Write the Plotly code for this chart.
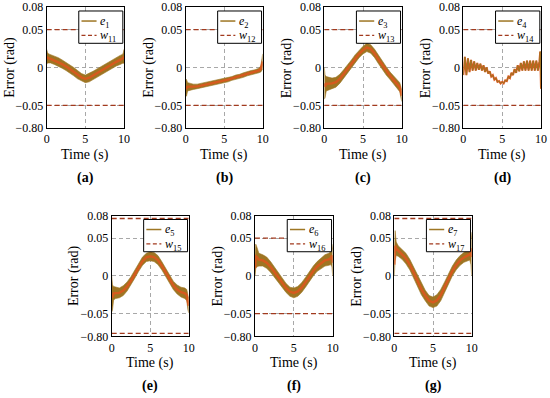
import plotly.graph_objects as go

# ---------------- data ----------------
T = [0, 0.1, 0.25, 0.5, 1, 1.5, 2, 2.5, 3, 3.5, 4, 4.5, 5, 5.5, 6, 6.5, 7, 7.5,
     8, 8.5, 9, 9.5, 9.75, 9.9, 10]

E1_UP = [0.024, 0.020, 0.018, 0.017, 0.015, 0.013, 0.010, 0.007, 0.003, 0.000, -0.004, -0.008, -0.010,
         -0.008, -0.005, -0.002, 0.001, 0.005, 0.008, 0.011, 0.013, 0.016, 0.017, 0.019, 0.024]
E1_LO = [0.004, 0.006, 0.006, 0.006, 0.004, 0.002, -0.001, -0.004, -0.007, -0.011, -0.015, -0.018, -0.020,
         -0.019, -0.016, -0.013, -0.009, -0.006, -0.003, 0.000, 0.002, 0.004, 0.005, 0.006, 0.005]

E2_UP = [-0.015, -0.016, -0.020, -0.021, -0.022, -0.022, -0.021, -0.020, -0.019, -0.018, -0.017, -0.016, -0.015,
         -0.013, -0.012, -0.010, -0.009, -0.007, -0.005, -0.004, -0.003, -0.001, 0.002, 0.010, 0.018]
E2_LO = [-0.036, -0.038, -0.031, -0.030, -0.029, -0.028, -0.027, -0.026, -0.025, -0.024, -0.022, -0.021, -0.020,
         -0.019, -0.017, -0.016, -0.014, -0.013, -0.011, -0.010, -0.009, -0.007, -0.006, -0.004, -0.002]

E3_UP = [0.000, -0.010, -0.012, -0.013, -0.014, -0.013, -0.009, -0.003, 0.003, 0.010, 0.017, 0.023, 0.028,
         0.032, 0.030, 0.024, 0.016, 0.009, 0.001, -0.006, -0.012, -0.017, -0.020, -0.025, -0.030]
E3_LO = [-0.042, -0.040, -0.031, -0.030, -0.028, -0.026, -0.021, -0.014, -0.007, 0.000, 0.007, 0.013, 0.018,
         0.021, 0.019, 0.013, 0.005, -0.003, -0.010, -0.016, -0.022, -0.028, -0.032, -0.040, -0.045]

T4 = [0.0, 0.2, 0.4, 0.6, 0.8, 1.0, 1.2, 1.4, 1.6, 1.8, 2.0, 2.2, 2.4, 2.6, 2.8, 3.0, 3.2, 3.4, 3.6, 3.8,
      4.0, 4.2, 4.4, 4.6, 4.8, 5.0, 5.2, 5.4, 5.6, 5.8, 6.0, 6.2, 6.4, 6.6, 6.8, 7.0, 7.2, 7.4, 7.6, 7.8,
      8.0, 8.2, 8.4, 8.6, 8.8, 9.0, 9.2, 9.4, 9.6, 9.8, 9.9, 10.0]
E4 = [-0.010, 0.014, -0.010, 0.012, -0.006, 0.010, -0.004, 0.008, -0.004, 0.006, -0.003, 0.005, -0.004,
      0.003, -0.006, 0.000, -0.008, -0.005, -0.012, -0.010, -0.016, -0.014, -0.019, -0.018, -0.021, -0.019,
      -0.021, -0.017, -0.018, -0.012, -0.014, -0.007, -0.010, -0.002, -0.007, 0.003, -0.005, 0.006, -0.004,
      0.008, -0.004, 0.009, -0.004, 0.009, -0.004, 0.009, -0.004, 0.009, -0.004, 0.008, 0.021, -0.028]

E5_UP = [0.000, -0.012, -0.014, -0.015, -0.016, -0.013, -0.008, -0.001, 0.008, 0.017, 0.025, 0.030, 0.032,
         0.031, 0.027, 0.019, 0.010, 0.001, -0.007, -0.012, -0.015, -0.016, -0.018, -0.025, -0.030]
E5_LO = [-0.048, -0.045, -0.032, -0.030, -0.029, -0.026, -0.020, -0.012, -0.003, 0.006, 0.014, 0.019, 0.020,
         0.019, 0.015, 0.008, -0.001, -0.010, -0.018, -0.024, -0.028, -0.030, -0.033, -0.045, -0.049]

E6_UP = [0.020, 0.042, 0.038, 0.030, 0.028, 0.025, 0.019, 0.012, 0.005, -0.003, -0.010, -0.015, -0.016,
         -0.014, -0.009, -0.002, 0.006, 0.013, 0.019, 0.024, 0.028, 0.030, 0.032, 0.042, 0.035]
E6_LO = [0.000, 0.010, 0.012, 0.013, 0.013, 0.010, 0.005, -0.002, -0.009, -0.016, -0.022, -0.027, -0.029,
         -0.027, -0.022, -0.015, -0.007, 0.000, 0.006, 0.010, 0.013, 0.014, 0.015, 0.012, 0.000]

E7_UP = [0.030, 0.060, 0.045, 0.040, 0.035, 0.030, 0.022, 0.012, 0.001, -0.010, -0.019, -0.026, -0.028,
         -0.025, -0.018, -0.008, 0.003, 0.013, 0.021, 0.027, 0.031, 0.034, 0.036, 0.058, 0.050]
E7_LO = [0.000, 0.020, 0.027, 0.026, 0.022, 0.016, 0.008, -0.003, -0.014, -0.025, -0.033, -0.040, -0.042,
         -0.040, -0.033, -0.022, -0.010, 0.000, 0.008, 0.014, 0.018, 0.020, 0.021, 0.015, 0.000]

W_BOUNDS = [0.05, 0.05, 0.05, 0.05, 0.076, 0.05, 0.076]
E_LABELS = ["<i>e</i><sub>1</sub>", "<i>e</i><sub>2</sub>", "<i>e</i><sub>3</sub>", "<i>e</i><sub>4</sub>",
            "<i>e</i><sub>5</sub>", "<i>e</i><sub>6</sub>", "<i>e</i><sub>7</sub>"]
W_LABELS = ["<i>w</i><sub>11</sub>", "<i>w</i><sub>12</sub>", "<i>w</i><sub>13</sub>", "<i>w</i><sub>14</sub>",
            "<i>w</i><sub>15</sub>", "<i>w</i><sub>16</sub>", "<i>w</i><sub>17</sub>"]
PANEL_LABELS = ["(a)", "(b)", "(c)", "(d)", "(e)", "(f)", "(g)"]
Y_TICKVALS = [-0.08, -0.05, 0, 0.05, 0.08]
Y_TICKTEXT = ["\u22120.80", "\u22120.05", "0", "0.05", "0.08"]
X_TICKVALS = [0, 5, 10]
X_TICKTEXT = ["0", "5", "10"]

BANDS = [(E1_UP, E1_LO), (E2_UP, E2_LO), (E3_UP, E3_LO), None, (E5_UP, E5_LO), (E6_UP, E6_LO), (E7_UP, E7_LO)]

# ---------------- layout geometry (window pixels) ----------------
W, H = 550, 398
PX = [(46.7, 124.0), (185.7, 262.7), (324.3, 401.7), (463.3, 541.0),
      (111.7, 188.7), (255.0, 332.7), (394.3, 471.7)]
PY = [(7.0, 128.0)] * 4 + [(215.5, 336.3)] * 3

OLIVE = "#9E7624"
ORANGE = "#E0561E"
RED = "#A23A1E"
FONT = "Liberation Serif"


def fx(px):
    return px / W


def fy(py):
    return 1 - py / H


fig = go.Figure()
layout = dict(width=W, height=H, margin=dict(l=0, r=0, t=0, b=0, autoexpand=False),
              paper_bgcolor="white", plot_bgcolor="white", showlegend=False,
              font=dict(family=FONT, size=12, color="black"))
shapes = []
annotations = []

for i in range(7):
    k = i + 1
    xa = "x" if k == 1 else f"x{k}"
    ya = "y" if k == 1 else f"y{k}"
    x0, x1 = PX[i]
    y0, y1 = PY[i]
    axis_common = dict(showline=True, linecolor="black", linewidth=1, mirror=True,
                       showgrid=True, gridcolor="#A8A8A8", gridwidth=0.8, griddash="4px,3px",
                       zeroline=False, ticks="", automargin=False,
                       tickfont=dict(family=FONT, size=12))
    layout["xaxis" if k == 1 else f"xaxis{k}"] = dict(
        axis_common, domain=[fx(x0), fx(x1)], anchor=ya, range=[0, 10],
        tickvals=X_TICKVALS, ticktext=X_TICKTEXT)
    layout["yaxis" if k == 1 else f"yaxis{k}"] = dict(
        axis_common, domain=[fy(y1), fy(y0)], anchor=xa, range=[-0.08, 0.08],
        tickvals=Y_TICKVALS, ticktext=Y_TICKTEXT)

    if BANDS[i] is not None:
        up, lo = BANDS[i]
        fig.add_trace(go.Scatter(x=T, y=up, mode="lines", line=dict(width=0.6, color=OLIVE),
                                 xaxis=xa, yaxis=ya, hoverinfo="skip"))
        fig.add_trace(go.Scatter(x=T, y=lo, mode="lines", line=dict(width=0.6, color=OLIVE),
                                 fill="tonexty", fillcolor=OLIVE, xaxis=xa, yaxis=ya, hoverinfo="skip"))
        mid = [(u + l) / 2 for u, l in zip(up, lo)]
        fig.add_trace(go.Scatter(x=T, y=mid, mode="lines", line=dict(width=2.4, color=ORANGE),
                                 opacity=0.85, xaxis=xa, yaxis=ya, hoverinfo="skip"))
    else:
        fig.add_trace(go.Scatter(x=T4, y=E4, mode="lines", line=dict(width=2.0, color=ORANGE),
                                 xaxis=xa, yaxis=ya, hoverinfo="skip"))
        fig.add_trace(go.Scatter(x=T4, y=E4, mode="lines", line=dict(width=1.0, color=OLIVE),
                                 xaxis=xa, yaxis=ya, hoverinfo="skip"))

    wb = W_BOUNDS[i]
    fig.add_trace(go.Scatter(x=[0, 10, None, 0, 10], y=[wb, wb, None, -wb, -wb], mode="lines",
                             line=dict(width=1.3, color=RED, dash="5px,3px"),
                             xaxis=xa, yaxis=ya, hoverinfo="skip"))

    # manual legend box
    xd = f"{xa} domain"
    yd = f"{ya} domain"
    shapes.append(dict(type="rect", xref=xd, yref=yd, x0=0.415, x1=0.985, y0=0.70, y1=0.967,
                       line=dict(color="black", width=1), fillcolor="white", layer="above"))
    shapes.append(dict(type="line", xref=xd, yref=yd, x0=0.45, x1=0.645, y0=0.884, y1=0.884,
                       line=dict(color=OLIVE, width=1.5), layer="above"))
    shapes.append(dict(type="line", xref=xd, yref=yd, x0=0.45, x1=0.645, y0=0.765, y1=0.765,
                       line=dict(color=RED, width=1.3, dash="4px,2.5px"), layer="above"))
    annotations.append(dict(xref=xd, yref=yd, x=0.665, y=0.878, text=E_LABELS[i], showarrow=False,
                            xanchor="left", yanchor="middle", font=dict(family=FONT, size=12)))
    annotations.append(dict(xref=xd, yref=yd, x=0.665, y=0.758, text=W_LABELS[i], showarrow=False,
                            xanchor="left", yanchor="middle", font=dict(family=FONT, size=12)))

    # axis titles & panel label
    cx = (x0 + x1) / 2
    cy = (y0 + y1) / 2
    annotations.append(dict(xref="paper", yref="paper", x=fx(x0 - 37.5), y=fy(cy),
                            text="Error (rad)", textangle=-90, showarrow=False,
                            xanchor="center", yanchor="middle", font=dict(family=FONT, size=14)))
    annotations.append(dict(xref="paper", yref="paper", x=fx(cx), y=fy(y1 + 27),
                            text="Time (s)", showarrow=False,
                            xanchor="center", yanchor="middle", font=dict(family=FONT, size=14)))
    annotations.append(dict(xref="paper", yref="paper", x=fx(cx), y=fy(y1 + 50),
                            text="<b>" + PANEL_LABELS[i] + "</b>", showarrow=False,
                            xanchor="center", yanchor="middle", font=dict(family=FONT, size=14)))

layout["shapes"] = shapes
layout["annotations"] = annotations
fig.update_layout(**layout)
fig.write_html("out.html", config={"displayModeBar": False},
               post_script="document.body.style.margin='0px';")
